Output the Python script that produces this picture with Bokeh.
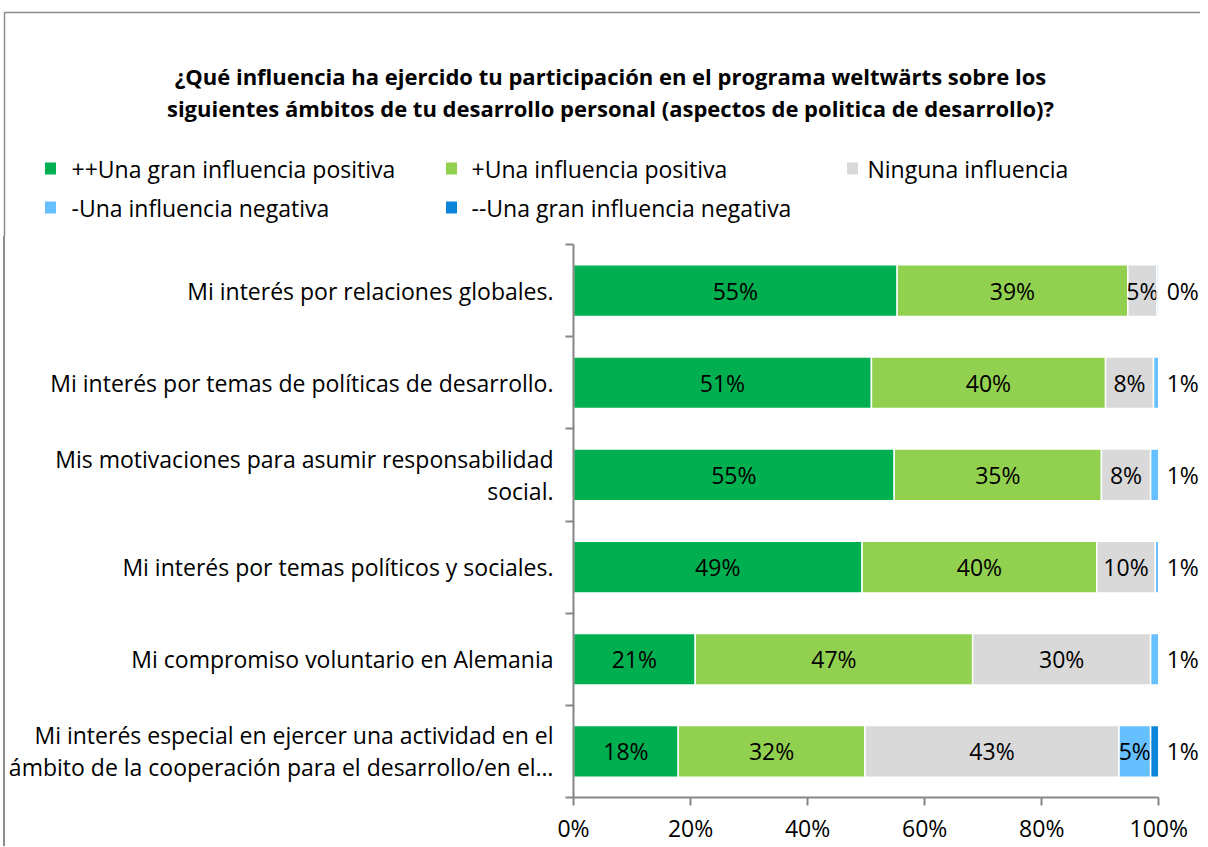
from bokeh.plotting import figure
from bokeh.models import ColumnDataSource, FixedTicker, PrintfTickFormatter, Range1d
from bokeh.core.properties import value
from bokeh.embed import file_html
from bokeh.resources import INLINE

# ---------------- data ----------------
categories = [
    "Mi interés por relaciones globales.",
    "Mi interés por temas de políticas de desarrollo.",
    "Mis motivaciones para asumir responsabilidad\nsocial.",
    "Mi interés por temas políticos y sociales.",
    "Mi compromiso voluntario en Alemania",
    "Mi interés especial en ejercer una actividad en el\námbito de la cooperación para el desarrollo/en el…",
]
series_names = [
    "++Una gran influencia positiva",
    "+Una influencia positiva",
    "Ninguna influencia",
    "-Una influencia negativa",
    "--Una gran influencia negativa",
]
colors = ["#00B050", "#92D050", "#D9D9D9", "#66BFFF", "#0A85D9"]
gran_positiva = [55.3, 50.9, 54.8, 49.3, 20.8, 17.9]
positiva = [39.4, 40.0, 35.4, 40.1, 47.4, 31.9]
ninguna = [5.0, 8.2, 8.4, 10.0, 30.4, 43.4]
negativa = [0.3, 0.9, 1.4, 0.6, 1.4, 5.4]
gran_negativa = [0.0, 0.0, 0.0, 0.0, 0.0, 1.4]
x_ticks = [0, 20, 40, 60, 80, 100]
title_lines = [
    "¿Qué influencia ha ejercido tu participación en el programa weltwärts sobre los",
    "siguientes ámbitos de tu desarrollo personal (aspectos de politica de desarrollo)?",
]

FONT = "Open Sans"
FS = "23px"
AX = "#868686"
BORDER = "#8C8C8C"
series = [gran_positiva, positiva, ninguna, negativa, gran_negativa]
n = len(categories)
ypos = [n - 1 - i for i in range(n)]  # first category on top

W = 1200
HEAD_H = 236
MAIN_H = 610
FRAME_L = 573
PX_PER_PCT = 5.853

# ---------------- header (title + legend), pixel coordinates ----------------
head = figure(width=W, height=HEAD_H, output_backend="svg", toolbar_location=None,
              x_range=Range1d(0, W), y_range=Range1d(HEAD_H, 0),
              x_axis_type=None, y_axis_type=None, min_border=0)
head.outline_line_color = None
head.xgrid.visible = False
head.ygrid.visible = False
head.line(x=[4, 4, W + 10], y=[HEAD_H + 10, 12, 12], line_color=BORDER, line_width=1.5)
head.text(x=[610, 610], y=[75, 107], text=title_lines, text_align="center",
          text_baseline="middle", text_font=value(FONT), text_font_size="22px",
          text_font_style="bold", text_color="#000000")
col_sq = [50, 451, 852]
col_tx = [71, 471, 867]
row_y = [168, 207]
leg_sq_x = [col_sq[k % 3] for k in range(len(series_names))]
leg_tx_x = [col_tx[k % 3] for k in range(len(series_names))]
leg_y = [row_y[k // 3] for k in range(len(series_names))]
head.rect(x=leg_sq_x, y=leg_y, width=11, height=12, fill_color=colors, line_color=None)
head.text(x=leg_tx_x, y=leg_y, text=series_names, text_align="left", text_baseline="middle",
          text_font=value(FONT), text_font_size=FS, text_color="#000000")

# ---------------- main chart ----------------
x_end = (W - FRAME_L) / PX_PER_PCT
p = figure(width=W, height=MAIN_H, output_backend="svg", toolbar_location=None,
           x_range=Range1d(0, x_end), y_range=Range1d(-0.5, n - 0.5),
           min_border_left=FRAME_L, min_border_right=0, min_border_top=8, min_border_bottom=45)
p.outline_line_color = None
p.xgrid.visible = False
p.ygrid.visible = False
p.border_fill_alpha = 0
p.styles = {"background": "linear-gradient(to right, transparent 3.25px, %s 3.25px, %s 4.75px, transparent 4.75px)" % (BORDER, BORDER)}

left = [0.0] * n
for name, vals, col in zip(series_names, series, colors):
    right = [l + v for l, v in zip(left, vals)]
    src = ColumnDataSource(dict(y=ypos, left=left, right=right))
    p.hbar(y="y", left="left", right="right", height=0.56, source=src,
           fill_color=col, line_color="white", line_width=1.5)
    ins = [i for i, v in enumerate(vals) if v >= 3]
    p.text(x=[(left[i] + right[i]) / 2 for i in ins], y=[ypos[i] for i in ins],
           text=[f"{round(vals[i])}%" for i in ins], text_align="center",
           text_baseline="middle", text_font=value(FONT), text_font_size=FS,
           text_color="#000000")
    left = right

# labels right of the bars: last small non-zero segment of each row
out_t = []
for i in range(n):
    v = [s[i] for s in series]
    last = max(j for j in range(len(v)) if v[j] > 0)
    out_t.append(f"{round(v[last])}%")
p.text(x=[100] * n, y=ypos, text=out_t, x_offset=24, text_align="center",
       text_baseline="middle", text_font=value(FONT), text_font_size=FS,
       text_color="#000000")

# x axis
p.xaxis.bounds = (0, 100)
p.xaxis.ticker = FixedTicker(ticks=x_ticks)
p.xaxis.formatter = PrintfTickFormatter(format="%d%%")
p.xaxis.axis_line_color = AX
p.xaxis.axis_line_width = 2
p.xaxis.major_tick_line_color = AX
p.xaxis.major_tick_line_width = 2
p.xaxis.major_tick_in = 0
p.xaxis.major_tick_out = 8
p.xaxis.minor_tick_line_color = None
p.xaxis.major_label_standoff = 6
p.xaxis.major_label_text_font = FONT
p.xaxis.major_label_text_font_size = FS
p.xaxis.major_label_text_color = "#000000"

# y axis: category names at centers, tick marks at boundaries
p.yaxis.ticker = FixedTicker(ticks=ypos, minor_ticks=[k - 0.5 for k in range(n + 1)])
p.yaxis.major_label_overrides = {float(y): c for y, c in zip(ypos, categories)}
p.yaxis.axis_line_color = AX
p.yaxis.axis_line_width = 2
p.yaxis.major_tick_line_color = None
p.yaxis.major_tick_in = 0
p.yaxis.major_tick_out = 0
p.yaxis.minor_tick_line_color = AX
p.yaxis.minor_tick_line_width = 2
p.yaxis.minor_tick_in = 0
p.yaxis.minor_tick_out = 8
p.yaxis.major_label_standoff = 12
p.yaxis.major_label_text_font = FONT
p.yaxis.major_label_text_font_size = FS
p.yaxis.major_label_text_line_height = 1.0
p.yaxis.major_label_text_color = "#000000"

open("out.html", "w").write(file_html([head, p], INLINE))
